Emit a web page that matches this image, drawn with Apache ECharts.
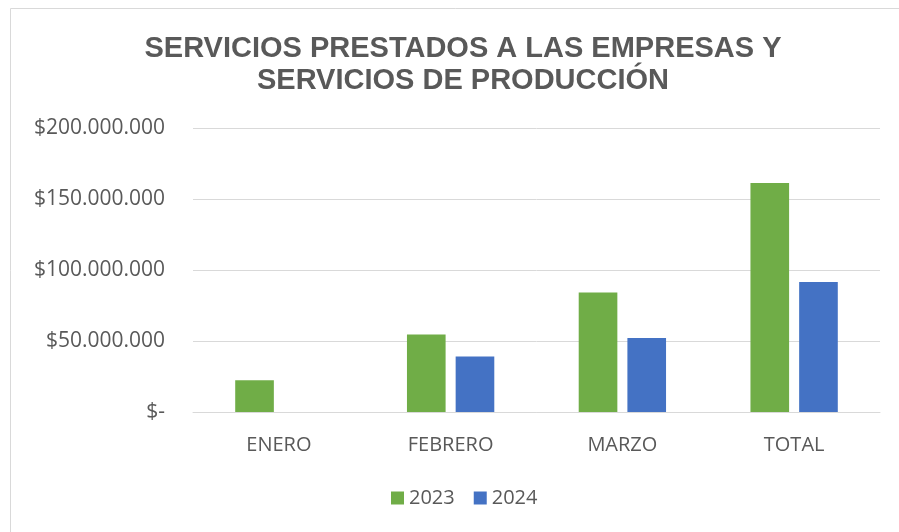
<!DOCTYPE html>
<html>
<head>
<meta charset="utf-8">
<script src="https://cdn.jsdelivr.net/npm/echarts@6/dist/echarts.min.js"></script>
<style>
  html, body { margin: 0; padding: 0; background: #fff; }
  #chart { width: 899px; height: 532px; }
</style>
</head>
<body>
<div id="chart"></div>
<script>
const categories = ["ENERO", "FEBRERO", "MARZO", "TOTAL"];
const values2023 = [22300000, 54500000, 84100000, 161300000];
const values2024 = [null, 39000000, 52100000, 91500000];
const yTicks = [0, 50000000, 100000000, 150000000, 200000000];

// formato contable: $200.000.000 y "$-" para cero
function moneda(v) {
  if (v === 0) return "$-";
  return "$" + String(Math.round(v)).replace(/\B(?=(\d{3})+(?!\d))/g, ".");
}

const myChart = echarts.init(document.getElementById("chart"));
myChart.setOption({
  animation: false,
  graphic: [
    {
      type: "rect",
      shape: { x: 10.5, y: 8.5, width: 900, height: 540 },
      style: { fill: "none", stroke: "#d9d9d9", lineWidth: 1 },
      silent: true,
    },
  ],
  title: {
    text: "SERVICIOS PRESTADOS A LAS EMPRESAS Y\nSERVICIOS DE PRODUCCIÓN",
    left: 458,
    top: 28,
    textAlign: "center",
    textStyle: {
      fontFamily: "Liberation Sans",
      fontWeight: "bold",
      fontSize: 29,
      color: "#595959",
      lineHeight: 32,
    },
  },
  legend: {
    data: ["2023", "2024"],
    left: 386,
    top: 483,
    itemWidth: 13,
    itemHeight: 13,
    itemGap: 19,
    icon: "rect",
    textStyle: { fontFamily: "Open Sans", fontSize: 20, color: "#595959" },
  },
  grid: {
    left: 193,
    right: 19,
    top: 128,
    bottom: 120,
    containLabel: false,
  },
  xAxis: {
    type: "category",
    data: categories,
    axisTick: { show: false },
    axisLine: { lineStyle: { color: "#d9d9d9", width: 1 } },
    axisLabel: {
      fontFamily: "Open Sans",
      fontSize: 20,
      color: "#595959",
      margin: 23,
    },
  },
  yAxis: {
    type: "value",
    min: 0,
    max: 200000000,
    interval: 50000000,
    axisLine: { show: false },
    axisTick: { show: false },
    splitLine: { lineStyle: { color: "#d9d9d9", width: 1 } },
    axisLabel: {
      fontFamily: "Open Sans",
      fontSize: 21,
      color: "#595959",
      margin: 28,
      formatter: moneda,
    },
  },
  series: [
    {
      name: "2023",
      type: "bar",
      data: values2023,
      barWidth: "22.5%",
      barGap: "26%",
      itemStyle: { color: "#70ad47" },
    },
    {
      name: "2024",
      type: "bar",
      data: values2024,
      barWidth: "22.5%",
      itemStyle: { color: "#4472c4" },
    },
  ],
});
</script>
</body>
</html>
